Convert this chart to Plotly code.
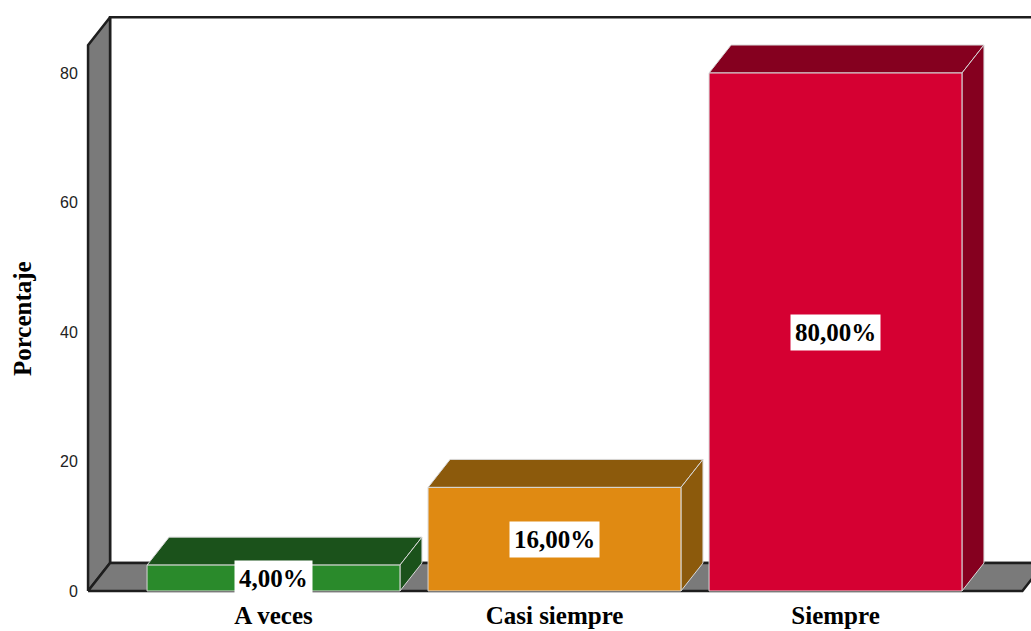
import plotly.graph_objects as go

# Response categories and their percentages
categories = ["A veces", "Casi siempre", "Siempre"]
percentages = [4.0, 16.0, 80.0]
y_ticks = [0, 20, 40, 60, 80]

# Face colours for each bar: (front, top/side)
front_colors = ["#2A8A2B", "#E08A12", "#D50032"]
shade_colors = ["#1B521B", "#8C5A0C", "#85001F"]

# 3D box geometry (in data units)
bar_w = 0.9
depth_x = 0.0783
depth_y = 4.32
wall_top = 84.3
x_lo, x_hi = -0.66, 2.665

WALL = "#7A7A7A"
EDGE = "#1E1E1E"
BAR_EDGE = "#D8D8D8"

fig = go.Figure()


def poly(pts, fill, line_color, line_width):
    xs = [p[0] for p in pts] + [pts[0][0]]
    ys = [p[1] for p in pts] + [pts[0][1]]
    fig.add_trace(go.Scatter(
        x=xs, y=ys, mode="lines", fill="toself", fillcolor=fill,
        line=dict(color=line_color, width=line_width),
        hoverinfo="skip", showlegend=False,
    ))


# Back wall, left wall and floor
poly([(x_lo + depth_x, depth_y), (x_lo + depth_x, wall_top + depth_y),
      (x_hi + depth_x + 0.5, wall_top + depth_y), (x_hi + depth_x + 0.5, depth_y)],
     "white", EDGE, 2.5)
poly([(x_lo, 0), (x_lo, wall_top), (x_lo + depth_x, wall_top + depth_y),
      (x_lo + depth_x, depth_y)], WALL, EDGE, 2.5)
poly([(x_lo, 0), (x_hi, 0), (x_hi + depth_x, depth_y),
      (x_lo + depth_x, depth_y)], WALL, EDGE, 2.5)

# Bars: top, side and front faces
hw = bar_w / 2
for i, v in enumerate(percentages):
    xc = i
    poly([(xc - hw, v), (xc + hw, v), (xc + hw + depth_x, v + depth_y),
          (xc - hw + depth_x, v + depth_y)], shade_colors[i], BAR_EDGE, 1)
    poly([(xc + hw, 0), (xc + hw + depth_x, depth_y), (xc + hw + depth_x, v + depth_y),
          (xc + hw, v)], shade_colors[i], BAR_EDGE, 1)
    poly([(xc - hw, 0), (xc + hw, 0), (xc + hw, v), (xc - hw, v)],
         front_colors[i], BAR_EDGE, 1)

# Value labels in white boxes at the middle of each bar
annotations = []
for i, v in enumerate(percentages):
    annotations.append(dict(
        x=i, y=v / 2, xref="x", yref="y",
        text="<b>" + f"{v:.2f}%".replace(".", ",") + "</b>", showarrow=False,
        font=dict(family="Liberation Serif", size=25, color="black"),
        bgcolor="white", borderpad=4,
    ))

# Axis title
annotations.append(dict(
    x=-0.0655, y=wall_top / 2, xref="paper", yref="y",
    text="<b>Porcentaje</b>", textangle=-90, showarrow=False,
    font=dict(family="Liberation Serif", size=25, color="black"),
    xanchor="center", yanchor="middle",
))

fig.update_layout(
    width=1031, height=631,
    margin=dict(l=84, r=0, t=10, b=38),
    paper_bgcolor="white", plot_bgcolor="white",
    showlegend=False,
    annotations=annotations,
    xaxis=dict(
        range=[-0.6744, 2.6957], tickvals=[0, 1, 2],
        ticktext=[f"<b>{c}</b>" for c in categories],
        tickfont=dict(family="Liberation Serif", size=25, color="black"),
        showgrid=False, zeroline=False, showline=False, automargin=False,
        ticks="", ticklabelstandoff=5,
    ),
    yaxis=dict(
        range=[-0.309, 89.73], tickvals=y_ticks,
        tickfont=dict(family="Liberation Sans", size=16, color="#222222"),
        showgrid=False, zeroline=False, showline=False, automargin=False,
        ticks="outside", ticklen=2, tickcolor="rgba(0,0,0,0)",
    ),
)

fig.write_html("out.html")
